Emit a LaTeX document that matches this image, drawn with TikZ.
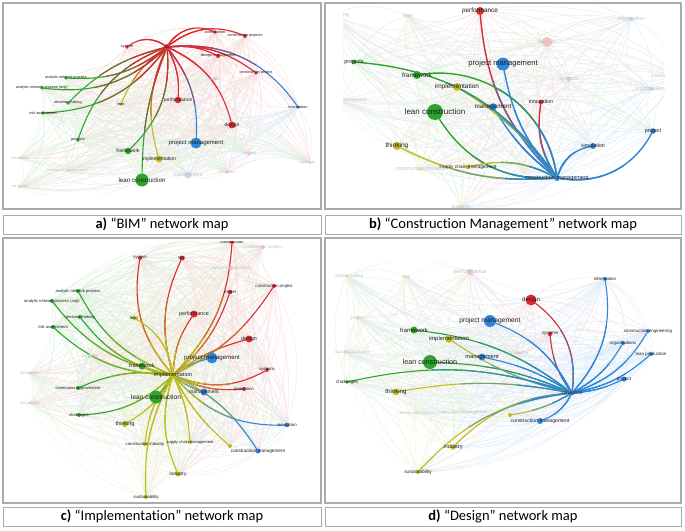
\documentclass[tikz,border=0pt]{standalone}
\usepackage{fontspec}
\setmainfont{Carlito}[Ligatures=NoCommon]
\newfontfamily\labfont{Liberation Sans}
\usetikzlibrary{calc}
\definecolor{R}{HTML}{DC2A30}
\definecolor{G}{HTML}{2DA52D}
\definecolor{B}{HTML}{2F86D8}
\definecolor{Y}{HTML}{BDBD1F}
\definecolor{framec}{HTML}{ABABAB}
\definecolor{labc}{HTML}{1E1E1E}
\tikzset{
  anchorpt/.style={circle,inner sep=0pt,minimum size=#1pt},
  web/.style={line width=0.35pt},
  hl/.style={line width=1.1pt,line cap=round},
  capbox/.style={draw=framec,line width=1pt,inner sep=0pt,font=\fontsize{14.5}{17}\selectfont},
  panelbox/.style={draw=framec,line width=1.2pt}
}
% name/x/y/colour/diameter/fontsize/label/active
\def\nodesA{a1/167/47/R/6/3.8/bim/1,a2/127/47/R/3.6/3.8/system/1,a3/215/32/R/3.6/3.8/construction/1,a4/245/36/R/4/3.8/construction projects/1,a5/218/56/R/4/3.8/design management/1,a6/256/73/R/3.6/3.8/construction project/1,a7/298/107/B/3.6/3.8/information/1,a8/232/125/R/7/5/design/1,a9/178/100/R/6.5/5/performance/1,a10/196/143/B/11/6/project management/1,a11/159/159/Y/7/5/implementation/1,a12/121/104/Y/3.6/3.8/lean/1,a13/128/151/G/6.5/5/framework/1,a14/66/78/G/3.6/3.8/analytic network process/1,a15/42/88/G/3.6/3.8/analytic network process (anp)/1,a16/68/103/G/3.6/3.8/decision making/1,a17/43/113/G/3.6/3.8/risk assessment/1,a18/78/140/G/3.6/3.8/projects/1,a19/142/180/G/13/6.2/lean construction/1,a20/20/158/G/3/3.8/simulation/0,a21/67/171/G/3/3.8/continuous improvement/0,a22/20/187/G/3/3.8/ed design/0,a23/249/154/R/3.6/3.8/systems/0,a24/227/172/R/3.6/3.8/innovation/0,a25/188/175/B/7/5/management/0,a26/310/163/B/3/3.8/organisations/0,a27/215/79/R/3.6/3.8/model/0}
\def\nodesB{b1/557/178/B/6/5.5/construction management/1,b2/503/64/B/13/7.6/project management/1,b3/493/107/B/7.5/6.3/management/1,b4/480/11/R/8/6.4/performance/1,b5/541/102/R/4.6/5.3/innovation/1,b6/435/112/G/16/8/lean construction/1,b7/417/75/G/8/6.4/framework/1,b8/457/87/Y/8/6.5/implementation/1,b9/354/62/G/4.6/5.5/projects/1,b10/397/146/Y/8/6.6/thinking/1,b11/468/167/Y/4.6/4.9/supply chain management/1,b12/593/146/B/6/5.3/simulation/1,b13/653/131/B/5.5/5.5/project/1,b14/547/42/R/10/6.4/design/0,b15/569/79/R/4.6/5.3/systems/0,b16/631/19/B/4.6/5.3/information/0,b17/680/76/B/4.6/5.3/construction engineering/0,b18/651/89/B/4.6/5.3/organisations/0,b19/330/15/G/4.6/5.3/decision making/0,b20/408/16/Y/4.6/5.3/lean/0,b21/338/100/G/4.6/5.3/continuous improvement/0,b22/420/169/Y/4.6/5.3/construction industry/0,b23/461/207/Y/5.5/5.3/industry/0,b24/524/172/Y/4.6/5.3//0}
\def\nodesC{c1/173/375/Y/7.5/5.6/implementation/1,c2/140/258/R/4/4.3/system/1,c3/78/291/G/4/4.1/analytic network process/1,c4/52/301/G/4/4.1/analytic network process (anp)/1,c5/80/317/G/4/4.1/decision making/1,c6/134/318/Y/4/4.3/lean/1,c7/53/327/G/4/4.1/risk assessment/1,c8/142/366/G/7/5.5/framework/1,c9/78/388/G/4/4.1/continuous improvement/1,c10/156/397/G/13/6.6/lean construction/1,c11/79/415/G/4/4.1/challenges/1,c12/125/424/Y/6/5.5/thinking/1,c13/145/444/Y/4/4.2/construction industry/1,c14/146/497/Y/4/4.4/sustainability/1,c15/232/242/R/4/4.3/construction/1,c16/182/258/R/5/4.3/bim/1,c17/230/292/R/4.5/4.3/model/1,c18/274/286/R/4/4.3/construction project/1,c19/194/314/R/7/5.3/performance/1,c20/249/339/R/7/5.3/design/1,c21/212/358/B/11/6.1/project management/1,c22/267/370/R/4/4.3/systems/1,c23/204/392/B/7/5.1/management/1,c24/244/389/R/4/4.3/innovation/1,c25/287/425/B/4.6/4.3/simulation/1,c26/190/442/Y/4/4/supply chain management/1,c27/230/446/Y/4/4.3//1,c28/258/451/B/5/4.7/construction management/1,c29/178/474/Y/5/4.8/industry/1,c30/263/247/R/4/4.3/construction projects/0,c31/231/268/R/4/4.3/design management/0,c32/90/356/G/4/4.3/projects/0,c33/30/373/G/3/4.3/simulation/0,c34/30/403/G/3/4.3/ted design/0}
\def\nodesD{d1/572/393/B/5/4.7/simulation/1,d2/531/300/R/11/6/design/1,d3/550/334/R/4.4/4.5/systems/1,d4/605/279/B/4/4.5/information/1,d5/648/331/B/4/4.4/construction engineering/1,d6/623/343/B/4/4.5/organisations/1,d7/651/354/B/4/4.5/lean production/1,d8/624/379/B/5/4.7/project/1,d9/540/421/B/6/5.1/construction management/1,d10/490/321/B/12/6.7/project management/1,d11/482/357/B/7/5.7/management/1,d12/430/362/G/14/7.2/lean construction/1,d13/414/330/G/7/5.9/framework/1,d14/449/339/Y/7.5/5.9/implementation/1,d15/347/382/G/3.6/4.5/challenges/1,d16/396/392/Y/6.5/6.1/thinking/1,d17/453/447/Y/5.5/5.4/industry/1,d18/418/472/Y/4/4.8/sustainability/1,d19/510/415/Y/4/4.5//1,d20/347/276/G/3.6/4.5/decision making/0,d21/406/277/Y/3.6/4.5/lean/0,d22/470/272/R/6.5/5.9/performance/0,d23/358/318/G/3.6/4.5/projects/0,d24/345/352/G/3.6/4.5/continuous improvement/0,d25/417/413/Y/3.6/4.2/construction industry/0,d26/462/412/Y/3.6/4.2/supply chain management/0,d27/518/353/R/3.6/4.5/innovation/0}

\newcommand\placeanchors[1]{%
  \foreach \n/\x/\y/\c/\d/\f/\l/\a in #1 {%
    \node[anchorpt=\d] (\n) at (\x,\y) {};
    \xglobal\colorlet{c-\n}{\c}}}
\newcommand\drawweb[3]{% prefix, N-1, N
  \foreach \i in {1,...,#2}{%
    \pgfmathtruncatemacro\k{\i+1}%
    \foreach \j in {\k,...,#3}{%
      \draw[web,draw=c-#1\i!16] (#1\i) to[bend left=22] (#1\j);}}}
\newcommand\drawdots[1]{%
  \foreach \n/\x/\y/\c/\d/\f/\l/\a in #1 {%
    \ifnum\a=1
      \node[circle,inner sep=0pt,minimum size=\d pt,fill=\c] (\n-d) at (\n) {};
      \node[inner sep=0pt,text=labc,font=\labfont\fontsize{\f}{\f}\selectfont] (\n-t) at (\n) {\l};
    \else
      \node[circle,inner sep=0pt,minimum size=\d pt,fill=\c!28] (\n-d) at (\n) {};
      \node[inner sep=0pt,text=black!24,font=\labfont\fontsize{\f}{\f}\selectfont] (\n-t) at (\n) {\l};
    \fi}}
% hub, hub colour, list of target/signed bend/target colour, extra options
\newcommand\hubedges[4]{%
  \foreach \t/\s/\c in {#3} {%
    \path let \p1=($(\t)-(#1)$), \n1={veclen(\x1,\y1)} in \pgfextra{\xdef\Lg{\n1}};
    \pgfmathsetmacro\La{0.62*\Lg}\pgfmathsetmacro\Lb{0.3*\Lg}%
    \draw[hl,#4,draw=\c] (#1) to[bend left=\s] (\t);
    \draw[hl,#4,line cap=butt,draw=#2!50!\c,dash pattern=on \La pt off 3000pt] (#1) to[bend left=\s] (\t);
    \draw[hl,#4,line cap=butt,draw=#2,dash pattern=on \Lb pt off 3000pt] (#1) to[bend left=\s] (\t);
  }}

\begin{document}
\begin{tikzpicture}[x=1pt,y=-1pt]
\useasboundingbox (0,0) rectangle (685,530);
\fill[white] (0,0) rectangle (685,530);

% ---------------- panel a
\begin{scope}
\clip (11,8) rectangle (314,194);
\placeanchors{\nodesA}
\drawweb{a}{26}{27}
\hubedges{a1}{R}{a2/-35/R,a3/40/R,a4/30/R,a5/15/R,a6/20/R,a7/30/B,a8/25/R,a9/15/R,a10/20/B,a11/-20/Y,a12/-15/Y,a13/25/G,a14/20/G,a15/25/G,a16/-15/G,a17/25/G,a18/-25/G,a19/-10/G}{}
\drawdots{\nodesA}
\end{scope}

% ---------------- panel b
\begin{scope}
\clip (343,5) rectangle (664,207);
\placeanchors{\nodesB}
\drawweb{b}{23}{24}
\hubedges{b1}{B}{b2/15/B,b3/10/B,b4/20/R,b5/20/R,b6/30/G,b7/-45/G,b8/-10/Y,b9/-25/G,b10/15/Y,b11/-20/Y,b12/30/B,b13/-35/B}{line width=1.4pt}
\drawdots{\nodesB}
\end{scope}

% ---------------- panel c
\begin{scope}
\clip (8,241) rectangle (316,500);
\placeanchors{\nodesC}
\drawweb{c}{33}{34}
\hubedges{c1}{Y}{c2/25/R,c16/20/R,c15/-20/R,c17/-15/R,c18/-15/R,c19/15/R,c20/10/R,c21/10/B,c22/-25/R,c24/-15/R,c23/-10/B,c25/-25/B,c28/15/B,c27/-10/Y,c26/10/Y,c29/-20/Y,c14/-15/Y,c13/-15/Y,c12/15/Y,c10/5/G,c11/20/G,c9/-15/G,c8/10/G,c7/20/G,c5/20/G,c4/20/G,c3/20/G,c6/-25/Y}{}
\drawdots{\nodesC}
\end{scope}

% ---------------- panel d
\begin{scope}
\clip (335,262) rectangle (676,499);
\placeanchors{\nodesD}
\drawweb{d}{26}{27}
\hubedges{d1}{B}{d2/-30/R,d3/15/R,d4/-25/B,d5/-20/B,d6/-15/B,d7/-15/B,d8/-10/B,d9/20/B,d10/-20/B,d11/-10/B,d12/-10/G,d13/-15/G,d14/10/Y,d15/-15/G,d16/-10/Y,d17/-20/Y,d18/-20/Y,d19/10/Y}{}
\drawdots{\nodesD}
\end{scope}

% ---------------- frames and captions
\draw[panelbox] (3,3) rectangle (321,209);
\draw[panelbox] (325,3) rectangle (681,209);
\draw[panelbox] (3,238) rectangle (321,503);
\draw[panelbox] (325,238) rectangle (681,503);
\node[capbox,minimum width=318pt,minimum height=19pt] (capA) at (162,224.5) {\textbf{a)} “BIM” network map};
\node[capbox,minimum width=356pt,minimum height=19pt] (capB) at (503,224.5) {\textbf{b)} “Construction Management” network map};
\node[capbox,minimum width=318pt,minimum height=19pt] (capC) at (162,516.5) {\textbf{c)} “Implementation” network map};
\node[capbox,minimum width=356pt,minimum height=19pt] (capD) at (503,516.5) {\textbf{d)} “Design” network map};
\end{tikzpicture}
\end{document}
